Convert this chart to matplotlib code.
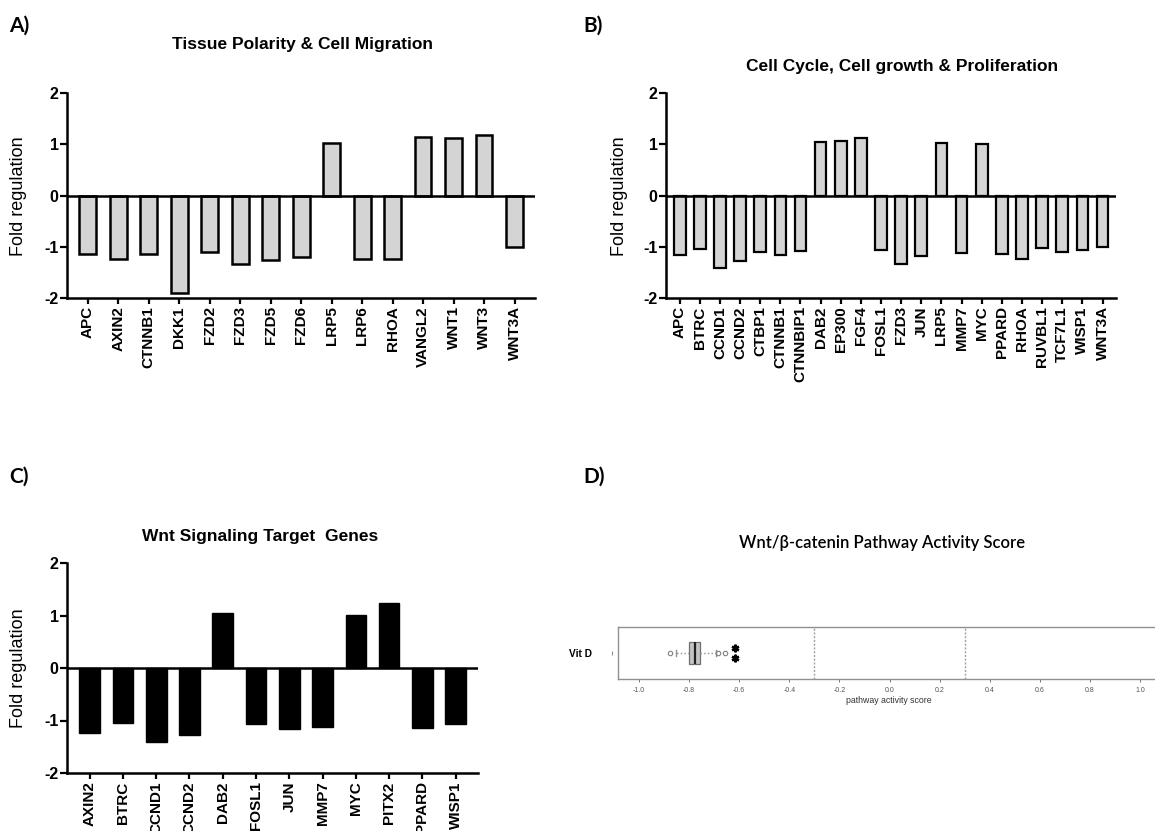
import numpy as np
import matplotlib
matplotlib.use("Agg")
from matplotlib import pyplot as plt

plt.rcParams['axes.unicode_minus'] = False

# A) Tissue polarity & cell migration
genes_a = ['APC', 'AXIN2', 'CTNNB1', 'DKK1', 'FZD2', 'FZD3', 'FZD5', 'FZD6',
           'LRP5', 'LRP6', 'RHOA', 'VANGL2', 'WNT1', 'WNT3', 'WNT3A']
fold_a = [-1.15, -1.23, -1.15, -1.90, -1.11, -1.33, -1.26, -1.20,
          1.03, -1.23, -1.24, 1.15, 1.13, 1.19, -1.00]

# B) Cell cycle, cell growth & proliferation
genes_b = ['APC', 'BTRC', 'CCND1', 'CCND2', 'CTBP1', 'CTNNB1', 'CTNNBIP1',
           'DAB2', 'EP300', 'FGF4', 'FOSL1', 'FZD3', 'JUN', 'LRP5', 'MMP7',
           'MYC', 'PPARD', 'RHOA', 'RUVBL1', 'TCF7L1', 'WISP1', 'WNT3A']
fold_b = [-1.17, -1.04, -1.41, -1.28, -1.10, -1.17, -1.08, 1.04, 1.06, 1.12,
          -1.06, -1.33, -1.18, 1.03, -1.13, 1.00, -1.15, -1.24, -1.02, -1.11,
          -1.07, -1.01]

# C) Wnt signaling target genes
genes_c = ['AXIN2', 'BTRC', 'CCND1', 'CCND2', 'DAB2', 'FOSL1', 'JUN', 'MMP7',
           'MYC', 'PITX2', 'PPARD', 'WISP1']
fold_c = [-1.23, -1.04, -1.40, -1.27, 1.05, -1.06, -1.17, -1.12, 1.01, 1.24,
          -1.14, -1.06]

yticks_fold = [-2, -1, 0, 1, 2]

# D) pathway activity score (box summary)
group_d = 'Vit D'
box_d = dict(med=-0.775, q1=-0.802, q3=-0.756, whislo=-0.854, whishi=-0.693,
             fliers=[-0.875, -0.683, -0.657], label=group_d)
star_x = -0.617
thresholds = [-0.3, 0.3]
xticks_d = [-1.0, -0.8, -0.6, -0.4, -0.2, 0.0, 0.2, 0.4, 0.6, 0.8, 1.0]

W, H = 1155, 831
fig = plt.figure(figsize=(W / 100, H / 100), dpi=100)

ARIAL = 'Liberation Sans'


def px_axes(x0, y0, x1, y1):
    # axes from pixel box (top-left origin)
    return fig.add_axes([x0 / W, 1 - y1 / H, (x1 - x0) / W, (y1 - y0) / H])


def bar_panel(ax, genes, vals, face, edge, width, lw):
    x = np.arange(len(genes))
    ax.bar(x, vals, width=width, color=face, edgecolor=edge, linewidth=lw,
           zorder=2)
    ax.axhline(0, color='black', lw=1.8, zorder=3)
    ax.set_ylim(-2, 2)
    ax.set_xlim(-0.68, len(genes) - 0.33)
    ax.set_yticks(yticks_fold)
    ax.set_xticks(x)
    ax.set_xticklabels(genes, rotation=90, fontsize=11, fontweight='bold',
                       family=ARIAL)
    for t in ax.get_yticklabels():
        t.set_fontsize(11.5)
        t.set_fontweight('bold')
        t.set_family(ARIAL)
    for s in ['top', 'right']:
        ax.spines[s].set_visible(False)
    for s in ['left', 'bottom']:
        ax.spines[s].set_linewidth(1.8)
    ax.tick_params(axis='y', length=5, width=1.6, pad=1)
    ax.tick_params(axis='x', length=4, width=1.6, pad=2)


def ylab(x, y, text):
    fig.text(x / W, 1 - y / H, text, rotation=90, ha='center', va='center',
             fontsize=13, family=ARIAL)


def panel_letter(x, y, text):
    fig.text(x / W, 1 - y / H, text, ha='left', va='center', fontsize=15,
             fontweight='bold', family='Lato')


def title(x, y, text):
    fig.text(x / W, 1 - y / H, text, ha='center', va='center', fontsize=12.5,
             fontweight='bold', family=ARIAL)


# panel A
ax_a = px_axes(67, 93, 535, 298)
bar_panel(ax_a, genes_a, fold_a, '#d4d4d4', 'black', 0.55, 1.8)
ylab(19, 196, 'Fold regulation')
panel_letter(9, 26, 'A)')
title(303, 45, 'Tissue Polarity & Cell Migration')

# panel B
ax_b = px_axes(666, 93, 1116, 298)
bar_panel(ax_b, genes_b, fold_b, '#d4d4d4', 'black', 0.58, 1.6)
ylab(619, 196, 'Fold regulation')
panel_letter(583, 26, 'B)')
title(902, 66, 'Cell Cycle, Cell growth & Proliferation')

# panel C
ax_c = px_axes(67, 563, 478, 773)
bar_panel(ax_c, genes_c, fold_c, 'black', 'black', 0.62, 1.0)
ylab(19, 668, 'Fold regulation')
panel_letter(9, 477, 'C)')
title(260, 537, 'Wnt Signaling Target  Genes')

# panel D
ax_d = px_axes(618, 627, 1160, 679)
ax_d.bxp([box_d], orientation='horizontal', widths=0.42, capwidths=0.12,
         patch_artist=True,
         boxprops=dict(facecolor='#c4c4c4', edgecolor='#707070', lw=0.9),
         medianprops=dict(color='#202020', lw=1.6),
         whiskerprops=dict(color='#909090', lw=1.0, linestyle=':'),
         capprops=dict(color='#909090', lw=1.0),
         flierprops=dict(marker='o', markersize=3.2, markerfacecolor='none',
                         markeredgecolor='#808080', markeredgewidth=0.8))
for t in thresholds:
    ax_d.axvline(t, color='#a0a0a0', lw=1.0, linestyle=(0, (1.5, 1.2)))
ax_d.plot([star_x, star_x], [0.9, 1.1], linestyle='none',
          marker=(6, 2, 0), markersize=5.5, markeredgewidth=1.7, color='black')
ax_d.plot([-1.108], [1], marker='|', markersize=3.5, color='#909090',
          markeredgewidth=0.8, clip_on=False)
ax_d.set_xlim(-1.084, 1.08)
ax_d.set_ylim(0.5, 1.5)
ax_d.set_xticks(xticks_d)
ax_d.set_xticklabels(['%.1f' % v for v in xticks_d], fontsize=5,
                     color='#555555', family=ARIAL)
ax_d.set_yticks([1])
ax_d.set_yticklabels([group_d], fontsize=7.3, fontweight='bold', family=ARIAL)
ax_d.tick_params(axis='y', length=0, pad=19)
ax_d.tick_params(axis='x', length=2.5, width=0.7, color='#777777', pad=3)
ax_d.set_xlabel('pathway activity score', fontsize=6.3, color='#333333',
                family=ARIAL, labelpad=2)
for s in ['top', 'left', 'bottom']:
    ax_d.spines[s].set_color('#909090')
    ax_d.spines[s].set_linewidth(1.0)
ax_d.spines['right'].set_visible(False)
fig.text(882 / W, 1 - 543 / H, 'Wnt/\u03b2-catenin Pathway Activity Score',
         ha='center', va='center', fontsize=12, fontweight='semibold',
         family='Lato')
panel_letter(583, 477, 'D)')

fig.savefig('out.png', dpi=100)
